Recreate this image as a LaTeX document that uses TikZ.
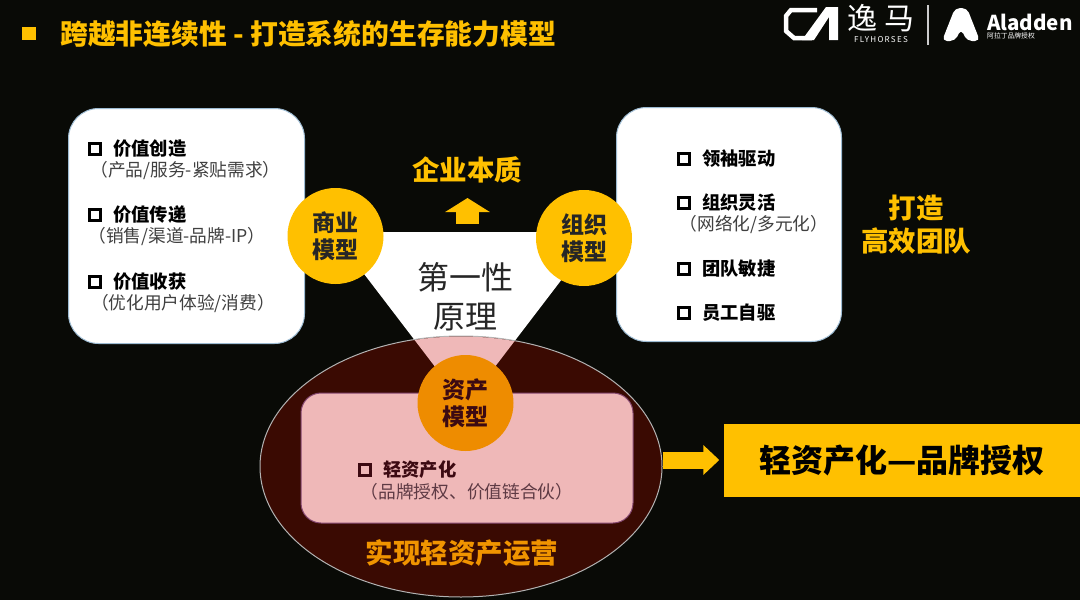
\documentclass[tikz,border=0pt]{standalone}
\usepackage{fontspec}
\setmainfont{Noto Sans CJK SC}
\usetikzlibrary{shapes.geometric,arrows.meta}
\definecolor{bgdark}{HTML}{090A06}
\definecolor{goldfill}{HTML}{FFC000}
\definecolor{orangefill}{HTML}{EE8C00}
\definecolor{pinkfill}{HTML}{EFB8B8}
\definecolor{wineoval}{HTML}{3A0A02}
\definecolor{winetext}{HTML}{3C0A12}
\definecolor{winenote}{HTML}{5E3A44}
\definecolor{boxedge}{HTML}{9DBBD2}
\tikzset{
    whitebox/.style={draw=boxedge, fill=white, line width=1pt, rounded corners=30pt, anchor=north west, inner sep=0},
    modelcircle/.style={circle, fill=goldfill, minimum size=96pt, inner sep=0, align=center, text=black!85,
        font=\fontsize{23}{27}\selectfont\bfseries},
    goldlabel/.style={text=goldfill, align=center, font=\fontsize{27.5}{33}\selectfont\bfseries},
    itemhead/.style={anchor=west, inner sep=0, font=\fontsize{18.3}{20}\selectfont\bfseries},
    itemnote/.style={inner sep=0, text=black!75, font=\fontsize{17.7}{20}\selectfont},
    itemmark/.style={draw, line width=2.6pt, minimum size=11pt, inner sep=0},
    logotext/.style={text=white, inner sep=0}
}
\begin{document}
\begin{tikzpicture}[x=1pt, y=-1pt]
    \useasboundingbox (0,0) rectangle (1080,600);
    \fill[bgdark] (0,0) rectangle (1080,600);

    % title
    \fill[goldfill] (22,27) rectangle (36,40);
    \node[anchor=west, inner sep=0, text=goldfill, font=\fontsize{27.8}{30}\selectfont\bfseries] (title) at (60,34)
        {跨越非连续性 - 打造系统的生存能力模型};

    % logo
    \draw[white, line width=4.5pt] (817,10) -- (791,10) -- (786,16) -- (786,31) -- (794,38) -- (812,38);
    \fill[white] (802,40) -- (826,7) -- (838,7) -- (838,40) -- (829,40) -- (829,17) -- (814,40) -- cycle;
    \node[logotext, font=\fontsize{30}{30}\selectfont] (logocn) at (881,18) {逸\hspace{7pt}马};
    \node[logotext, font=\fontsize{8}{8}\selectfont\addfontfeatures{LetterSpace=16}] (logoen) at (881,40) {FLYHORSES};
    \draw[white!80!black, line width=1.5pt] (928,5) -- (928,45);
    \fill[white, rounded corners=5pt] (942,41) -- (955,8) -- (967,8) -- (980,41) -- (967,41) -- (961,29) -- (955,41) -- cycle;
    \node[logotext, anchor=west, font=\fontsize{20.5}{20}\selectfont\bfseries] (logoaladden) at (987,22) {Aladden};
    \node[logotext, anchor=west, font=\fontsize{6.8}{7}\selectfont] (logosub) at (987,36) {阿拉丁品牌授权};

    % triangle
    \fill[white] (332,232) -- (598,232) -- (465,406) -- cycle;
    \node[font=\fontsize{32}{39}\selectfont, align=center, inner sep=0, text=black!85] (principle) at (465,297) {第一性\\原理};

    % left box
    \node[whitebox, minimum width=236pt, minimum height=235pt] (bizbox) at (68,108) {};
    \foreach \y/\head/\note/\cx in {149/价值创造/{（产品/服务-紧贴需求）}/185.5, 215/价值传递/{（销售/渠道-品牌-IP）}/177, 282/价值收获/{（优化用户体验/消费）}/183} {
        \node[itemmark] at (95,\y) {};
        \node[itemhead] at (113,\y) {\head};
        \node[itemnote] at (\cx,\y+22) {\note};
    }

    % right box
    \node[whitebox, minimum width=225pt, minimum height=234pt] (orgbox) at (616,107) {};
    \foreach \y/\head in {159/领袖驱动, 203/组织灵活, 269/团队敏捷, 313/员工自驱} {
        \node[itemmark] at (684,\y) {};
        \node[itemhead] at (702,\y) {\head};
    }
    \node[itemnote] (orgnote) at (754,225) {（网络化/多元化）};

    % oval
    \node[ellipse, draw=white!70!black, line width=1pt, fill=wineoval, minimum width=402pt, minimum height=261pt, inner sep=0] (assetoval) at (461,466.5) {};
    \begin{scope}
        \clip (461,466.5) ellipse [x radius=200.5, y radius=130];
        \fill[pinkfill] (332,232) -- (598,232) -- (465,406) -- cycle;
    \end{scope}
    \fill[pinkfill, draw=violet!45!pinkfill!70!black, line width=1pt, rounded corners=20pt] (301,393) rectangle (633,523);
    \node[itemmark, draw=winetext] at (365,470) {};
    \node[itemhead, text=winetext] (lighthead) at (383,470) {轻资产化};
    \node[itemnote, text=winenote] (lightnote) at (467,492) {（品牌授权、价值链合伙）};
    \node[goldlabel, text=orangefill!85!goldfill] (lightrun) at (462,553) {实现轻资产运营};

    % circles
    \node[modelcircle] (bizmodel) at (335.5,236) {商业\\模型};
    \node[modelcircle] (orgmodel) at (584,238) {组织\\模型};
    \node[modelcircle, fill=orangefill, text=winetext] (assetmodel) at (465.5,403) {资产\\模型};

    % labels
    \node[goldlabel] (essence) at (467,170) {企业本质};
    \node[goldlabel] (team) at (916,225) {打造\\高效团队};
    \coordinate (essencetail) at (467.5,224);
    \coordinate (essencetip) at (467.5,198);
    \draw[goldfill, line width=23pt, -{Triangle[length=14pt, width=44pt]}] (essencetail) -- (essencetip);

    % brand box
    \node[fill=goldfill, minimum width=357pt, minimum height=73pt, inner sep=0, text=black, font=\fontsize{32}{36}\selectfont\bfseries] (brandbox) at (902,460) {轻资产化—品牌授权};
    \draw[goldfill, line width=17pt, -{Triangle[length=16pt, width=29pt]}] (assetoval.east |- brandbox.west) -- ([xshift=-4pt]brandbox.west);
\end{tikzpicture}
\end{document}
